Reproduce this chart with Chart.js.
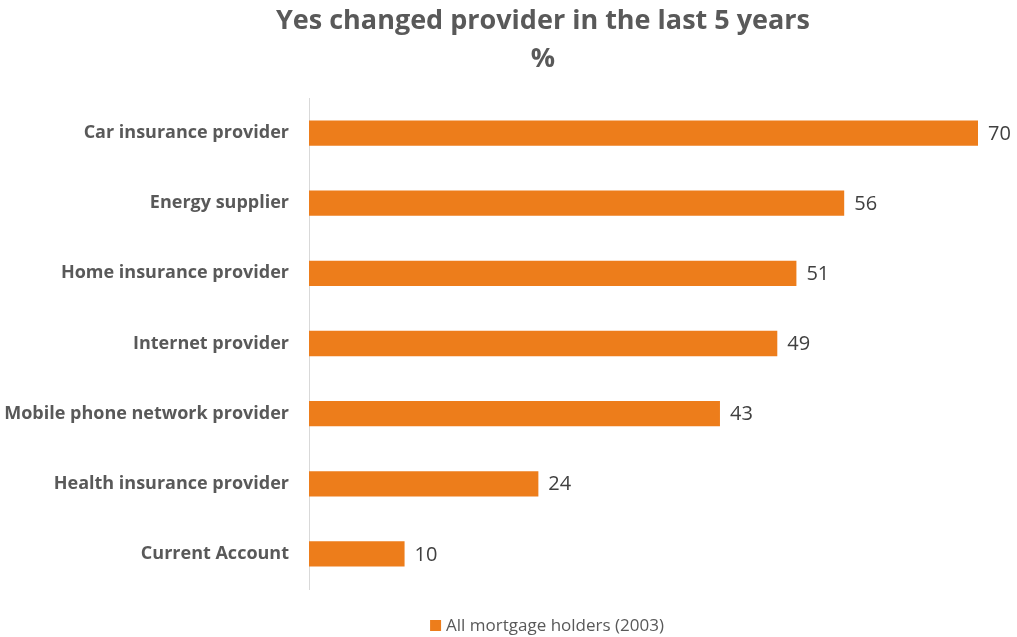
<!DOCTYPE html>
<html>
<head>
<meta charset="utf-8">
<script src="https://cdn.jsdelivr.net/npm/chart.js@4/dist/chart.umd.min.js"></script>
<style>
  html, body { margin: 0; padding: 0; background: #fff; }
  #wrap { width: 1017px; height: 637px; }
</style>
</head>
<body>
<div id="wrap"><canvas id="providerChart"></canvas></div>
<script>
// data
const categories = [
    'Car insurance provider',
    'Energy supplier',
    'Home insurance provider',
    'Internet provider',
    'Mobile phone network provider',
    'Health insurance provider',
    'Current Account'
];
const switchedPct = [70, 56, 51, 49, 43, 24, 10];
const seriesName = 'All mortgage holders (2003)';
const titleLines = ['Yes changed provider in the last 5 years', '%'];
const barColor = '#ED7D1B';

// value labels at the end of each bar
const barLabels = {
    id: 'barLabels',
    afterDatasetsDraw(chart) {
        const ctx = chart.ctx;
        const meta = chart.getDatasetMeta(0);
        ctx.save();
        ctx.font = '20px "Open Sans"';
        ctx.fillStyle = '#404040';
        ctx.textAlign = 'left';
        ctx.textBaseline = 'middle';
        meta.data.forEach((bar, i) => {
            ctx.fillText(String(chart.data.datasets[0].data[i]), bar.x + 10, bar.y + 1);
        });
        ctx.restore();
    }
};

// title and legend, centred a little right of the canvas middle like the original
const headerFooter = {
    id: 'headerFooter',
    afterDraw(chart) {
        const ctx = chart.ctx;
        const cx = 543;
        ctx.save();
        ctx.fillStyle = '#595959';
        ctx.textAlign = 'center';
        ctx.textBaseline = 'middle';
        ctx.font = 'bold 27px "Open Sans"';
        titleLines.forEach((line, i) => ctx.fillText(line, cx, 21 + i * 38));

        // legend
        ctx.font = '17px "Open Sans"';
        const tw = ctx.measureText(seriesName).width;
        const box = 11, gap = 5;
        const left = cx + 4 - (box + gap + tw) / 2;
        ctx.fillStyle = barColor;
        ctx.fillRect(left, 620, box, box);
        ctx.fillStyle = '#595959';
        ctx.textAlign = 'left';
        ctx.fillText(seriesName, left + box + gap, 626);
        ctx.restore();
    }
};

const ctx = document.getElementById('providerChart');
new Chart(ctx, {
    type: 'bar',
    data: {
        labels: categories,
        datasets: [{
            label: seriesName,
            data: switchedPct,
            backgroundColor: barColor,
            borderWidth: 0,
            barPercentage: 0.36,
            categoryPercentage: 1
        }]
    },
    options: {
        indexAxis: 'y',
        responsive: true,
        maintainAspectRatio: false,
        animation: false,
        layout: { padding: { left: 0, right: 39, top: 98, bottom: 48 } },
        plugins: {
            tooltip: { enabled: false },
            title: { display: false },
            legend: { display: false }
        },
        scales: {
            x: {
                display: false,
                min: 0,
                max: 70
            },
            y: {
                grid: { display: false },
                border: { display: true, color: '#d9d9d9', width: 1 },
                ticks: {
                    color: '#595959',
                    font: { family: 'Open Sans', size: 18, weight: 'bold' },
                    padding: 12
                },
                afterFit(scale) { scale.width = 309; }
            }
        }
    },
    plugins: [barLabels, headerFooter]
});
</script>
</body>
</html>
